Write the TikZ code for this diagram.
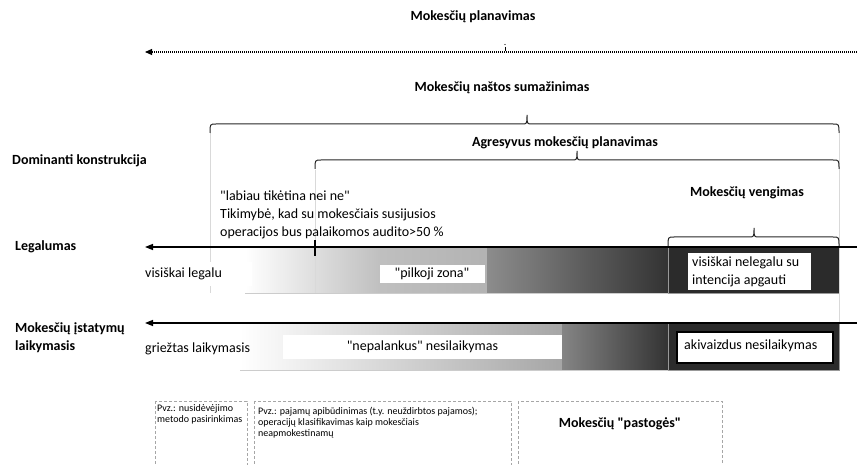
\documentclass[tikz,border=0pt]{standalone}
\usepackage{fontspec}
\newfontfamily\carl{Carlito}
\usetikzlibrary{arrows.meta}
\newcommand{\tbrace}[4]{%
  \draw[bracestyle] (#1,{#4+9}) .. controls (#1,#4) .. ({#1+6},#4) -- ({#3-5},#4)
    .. controls (#3,#4) .. (#3,{#4-9}) .. controls (#3,#4) .. ({#3+5},#4)
    -- ({#2-6},#4) .. controls (#2,#4) .. (#2,{#4+9});}
\tikzset{
  txt/.style={font=\carl\fontsize{14}{18}\selectfont, inner sep=0pt},
  ttl/.style={font=\carl\fontsize{14}{18}\selectfont\bfseries, inner sep=0pt},
  small/.style={font=\carl\fontsize{10}{11.2}\selectfont, inner sep=0pt, align=left, anchor=north west},
  bracestyle/.style={line width=1pt, black!85},
  guide/.style={line width=0.6pt, black!15},
  axisarrow/.style={line width=1.4pt, -{Triangle[length=8pt,width=6pt]}},
  dotarrow/.style={line width=1.1pt, dash pattern=on 1pt off 1pt, -{Triangle[length=7pt,width=6pt]}},
  wbox/.style={fill=white, inner sep=0pt},
  darkbox/.style={fill=black!83, draw=black!40, line width=0.6pt},
  dbox/.style={draw=black!35, line width=1pt, dash pattern=on 3pt off 2pt}
}
\begin{document}
\begin{tikzpicture}[x=1pt,y=-1pt]
\useasboundingbox (0,0) rectangle (857,465);
% top
\node[ttl] (plan) at (473,17) {Mokesčių planavimas};
\coordinate (pr) at (857,52);
\coordinate (pl) at (145,52);
\draw[dotarrow] (pr) -- (pl);
\draw[line width=0.6pt] (505,47) -- (505,51);
\fill (505,44.5) circle (0.6);
\node[ttl] (nasta) at (502,88) {Mokesčių naštos sumažinimas};
% bars 1
\fill[white] (145,247) rectangle (668,293);
\shade[left color=white, right color=black!25] (245,247) rectangle (380,293);
\shade[left color=black!25, right color=black!30] (380,247) rectangle (487,293);
\shade[left color=black!45, right color=black!80] (487,247) rectangle (668,293);
\draw[black!20, line width=0.6pt] (245,293) -- (668,293);
\draw[darkbox] (668,247) rectangle (839,293);
% bars 2
\shade[left color=white, right color=black!35] (240,323) rectangle (562,370);
\shade[left color=black!48, right color=black!80] (562,323) rectangle (668,370);
\draw[black!20, line width=0.6pt] (240,370) -- (668,370);
\draw[darkbox] (668,323) rectangle (839,370);
% guides
\draw[guide] (210,133) -- (210,293);
\draw[guide] (315,170) -- (315,293);
\draw[guide] (839,133) -- (839,323);
% braces
\tbrace{210}{839}{527}{124}
\tbrace{315}{839}{577}{160}
\tbrace{668}{839}{754}{237}
% labels
\node[ttl, anchor=west] (dom) at (12,161) {Dominanti konstrukcija};
\node[ttl] (agr) at (565,143) {Agresyvus mokesčių planavimas};
\node[ttl] (veng) at (747,193) {Mokesčių vengimas};
\node[txt, anchor=west, align=left] (prob) at (220,214.5) {"labiau tikėtina nei ne"\\Tikimybė, kad su mokesčiais susijusios\\operacijos bus palaikomos audito>50 \%};
\node[ttl, anchor=west] (leg) at (15,247) {Legalumas};
\node[ttl, anchor=west, align=left] (comp) at (15,338) {Mokesčių įstatymų\\laikymasis};
% axes
\coordinate (lr) at (857,247);
\coordinate (ll) at (145,247);
\draw[axisarrow] (lr) -- (ll);
\coordinate (cr) at (857,323);
\coordinate (cl) at (145,323);
\draw[axisarrow] (cr) -- (cl);
\draw[line width=1.2pt] (315,240) -- (315,256);
% bar boxes
\node[wbox, anchor=west, minimum width=107pt, minimum height=24pt] (vlb) at (145,274) {};
\node[txt, anchor=west] (vl) at (145,274) {visiškai legalu};
\node[wbox, txt, minimum width=105pt, minimum height=18pt] (pz) at (432,274) {"pilkoji zona"};
\node[wbox, minimum width=123pt, minimum height=37pt] (vnb) at (749.5,271.5) {};
\node[txt, anchor=west, align=left] (vn) at (692,271.5) {visiškai nelegalu su\\intencija apgauti};
\node[wbox, anchor=west, minimum width=93pt, minimum height=32pt] (glb) at (145,351) {};
\node[txt, anchor=west] (gl) at (145,349) {griežtas laikymasis};
\node[wbox, txt, minimum width=279pt, minimum height=24pt] (np) at (422.5,347) {"nepalankus" nesilaikymas};
\node[wbox, draw=black, line width=1.5pt, minimum width=156pt, minimum height=31pt] (akb) at (755,347.5) {};
\node[txt, anchor=west] (ak) at (684,346) {akivaizdus nesilaikymas};
% dashed boxes
\draw[dbox] (155,401) rectangle (247,475);
\draw[dbox] (254,401) rectangle (511,475);
\draw[dbox] (518,401) rectangle (722,475);
\node[small] (ex1) at (157,404) {Pvz.: nusidėvėjimo\\metodo pasirinkimas};
\node[small] (ex2) at (258,407) {Pvz.: pajamų apibūdinimas (t.y. neuždirbtos pajamos);\\operacijų klasifikavimas kaip mokesčiais\\neapmokestinamų};
\node[ttl] (past) at (620,424) {Mokesčių "pastogės"};
\end{tikzpicture}
\end{document}
